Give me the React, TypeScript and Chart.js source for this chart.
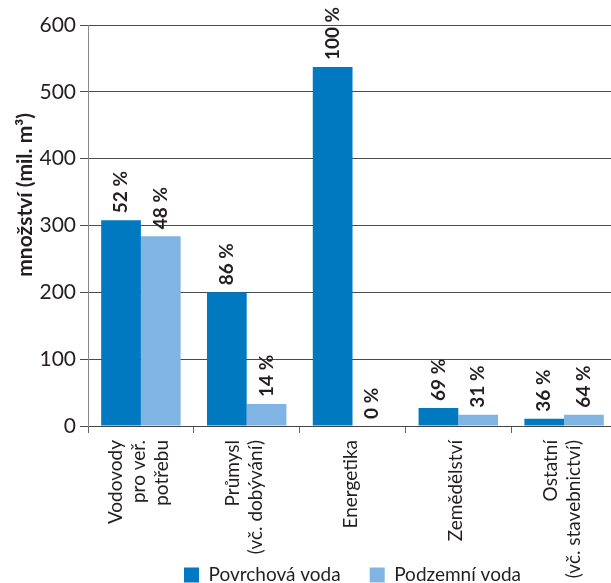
import React, { useEffect, useRef } from 'react';
import { Chart, registerables } from 'chart.js';

Chart.register(...registerables);

// ---- data ----
const categories: string[][] = [
  ['Vodovody', 'pro veř.', 'potřebu'],
  ['Průmysl', '(vč. dobývání)'],
  ['Energetika'],
  ['Zemědělství'],
  ['Ostatní', '(vč. stavebnictví)'],
];
const surfaceValues = [308, 200, 537, 27, 11];
const groundValues = [284, 33, 0, 17, 17];
const surfaceShares = ['52 %', '86 %', '100 %', '69 %', '36 %'];
const groundShares = ['48 %', '14 %', '0 %', '31 %', '64 %'];
const seriesNames = ['Povrchová voda', 'Podzemní voda'];
const seriesColors = ['#0079c1', '#80b5e3'];
const yTitle = 'množství (mil. m³)';
const yMin = 0;
const yMax = 600;
const yStep = 100;

const FONT = 'Lato, "Open Sans", sans-serif';
const TEXT = '#231f20';
const LINE_GAP = 23;
const VIEW_W = 611;
const VIEW_H = 583;
const CANVAS_W = 617; // plot area runs slightly past the picture's right edge

// centre multi-line rotated labels on the category: place lines on a half-step grid
function padLines(lines: string[]): string[] {
  const out = ['', '', '', '', ''];
  const n = lines.length;
  lines.forEach((l, j) => {
    out[2 * j + 3 - n] = l;
  });
  return out;
}

const shareLabels = [surfaceShares, groundShares];

const shareLabelPlugin = {
  id: 'shareLabels',
  afterDatasetsDraw(chart: any) {
    const ctx = chart.ctx;
    ctx.save();
    ctx.font = `bold 19px ${FONT}`;
    ctx.fillStyle = TEXT;
    ctx.textAlign = 'left';
    ctx.textBaseline = 'middle';
    chart.data.datasets.forEach((_ds: any, di: number) => {
      const meta = chart.getDatasetMeta(di);
      meta.data.forEach((bar: any, i: number) => {
        ctx.save();
        ctx.translate(bar.x, bar.y - 7);
        ctx.rotate(-Math.PI / 2);
        ctx.fillText(shareLabels[di][i], 0, 0);
        ctx.restore();
      });
    });
    ctx.restore();
  },
};

// legend drawn below the chart, overlapping the tall rotated category labels
const bottomLegendPlugin = {
  id: 'bottomLegend',
  afterDraw(chart: any) {
    const ctx = chart.ctx;
    const area = chart.chartArea;
    const box = 15;
    const size = 19;
    const gap = size / 2;
    const spacing = 29;
    ctx.save();
    ctx.font = `${size}px ${FONT}`;
    ctx.textBaseline = 'middle';
    ctx.textAlign = 'left';
    const items = chart.data.datasets.map((ds: any) => ({
      text: ds.label,
      color: ds.backgroundColor,
      w: box + gap + ctx.measureText(ds.label).width,
    }));
    const total =
      items.reduce((s: number, it: any) => s + it.w, 0) + spacing * (items.length - 1);
    let x = (area.left + area.right) / 2 - total / 2;
    const cy = chart.height - 8;
    items.forEach((it: any) => {
      ctx.fillStyle = it.color;
      ctx.fillRect(x, cy - box / 2, box, box);
      ctx.fillStyle = TEXT;
      ctx.fillText(it.text, x + box + gap, cy);
      x += it.w + spacing;
    });
    ctx.restore();
  },
};

export default function App() {
  const ref = useRef<HTMLCanvasElement | null>(null);

  useEffect(() => {
    document.body.style.margin = '0';
    document.body.style.overflow = 'hidden';
    const canvas = ref.current;
    if (!canvas) return;
    const chart = new Chart(canvas, {
      type: 'bar',
      data: {
        labels: categories.map(padLines),
        datasets: [
          {
            label: seriesNames[0],
            data: surfaceValues,
            backgroundColor: seriesColors[0],
            categoryPercentage: 0.751,
            barPercentage: 1,
          },
          {
            label: seriesNames[1],
            data: groundValues,
            backgroundColor: seriesColors[1],
            categoryPercentage: 0.751,
            barPercentage: 1,
          },
        ],
      },
      options: {
        responsive: false,
        animation: false,
        layout: { padding: { top: 25, right: 0, bottom: 0, left: 0 } },
        plugins: {
          tooltip: { enabled: false },
          legend: { display: false },
        },
        scales: {
          x: {
            offset: true,
            grid: {
              offset: true,
              drawOnChartArea: false,
              tickLength: 7,
              color: '#666',
            },
            border: { display: true, color: '#444' },
            ticks: {
              autoSkip: false,
              minRotation: 90,
              maxRotation: 90,
              padding: 7,
              labelOffset: -LINE_GAP - 2,
              color: TEXT,
              font: { family: FONT, size: 19, lineHeight: LINE_GAP / 2 / 19 },
            },
            afterFit(scale: any) {
              scale.height = 157;
              scale.paddingLeft = 0;
              scale.paddingRight = 0;
            },
          },
          y: {
            min: yMin,
            max: yMax,
            ticks: {
              stepSize: yStep,
              padding: 4,
              color: TEXT,
              font: { family: FONT, size: 21 },
            },
            grid: { color: '#4a4a4a', tickLength: 8, lineWidth: 1 },
            border: { display: true, color: '#8a8a8a' },
            title: {
              display: true,
              text: '            ' + yTitle,
              color: TEXT,
              font: { family: FONT, size: 21, weight: 'bold' },
              padding: { top: 13, bottom: 0 },
            },
            afterFit(scale: any) {
              scale.width = 88;
              scale.paddingTop = 0;
              scale.paddingBottom = 0;
            },
          },
        },
      },
      plugins: [shareLabelPlugin, bottomLegendPlugin],
    } as any);
    return () => chart.destroy();
  }, []);

  return (
    <div style={{ width: VIEW_W, height: VIEW_H, overflow: 'hidden', position: 'relative' }}>
      <canvas
        ref={ref}
        width={CANVAS_W}
        height={VIEW_H}
        style={{ position: 'absolute', left: 0, top: 0 }}
      />
    </div>
  );
}
